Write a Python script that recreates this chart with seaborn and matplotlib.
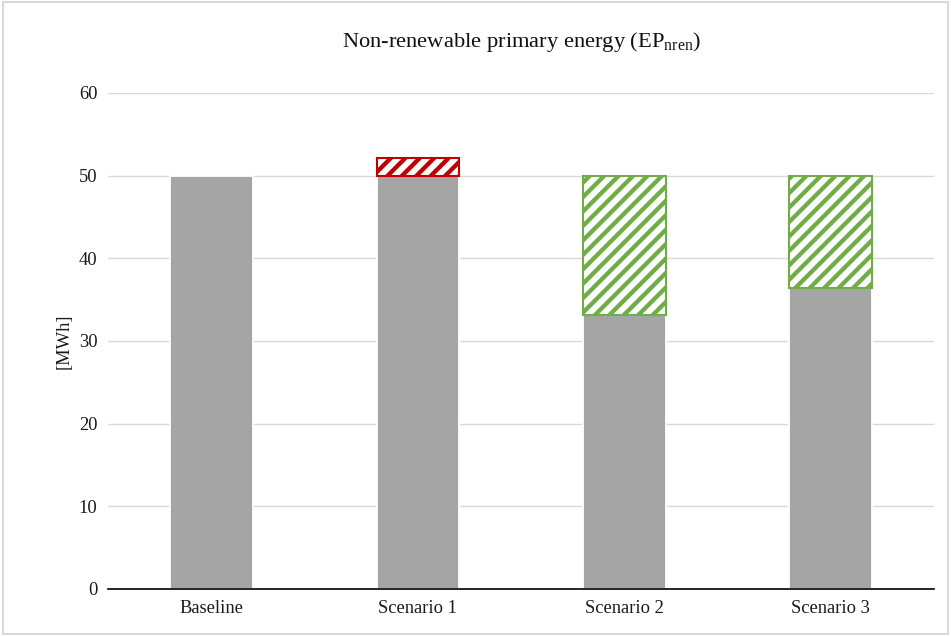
import matplotlib
matplotlib.use("Agg")
import matplotlib.pyplot as plt
import seaborn as sns
import numpy as np
import pandas as pd

DPI = 130
S = 100 / DPI  # keep point sizes as at 100 dpi, hatch density follows dpi

sns.set_theme(style="white")
plt.rcParams.update({
    "font.family": ["Liberation Serif", "DejaVu Serif"],
    "font.size": 13 * S,
    "hatch.linewidth": 2.4,
    "mathtext.fontset": "custom",
    "mathtext.rm": "Liberation Serif",
})

categories = ["Baseline", "Scenario 1", "Scenario 2", "Scenario 3"]
scenario_values = [50.0, 52.1, 33.1, 36.4]   # EP_nren per scenario
baseline_value = 50.0
hatch_colors = ["none", "#c00000", "#70ad47", "#70ad47"]

df = pd.DataFrame({
    "scenario": categories,
    "value": scenario_values,
})
# gray part = part shared with baseline, hatched part = difference
df["gray"] = np.minimum(df["value"], baseline_value)
df["diff_bottom"] = np.minimum(df["value"], baseline_value)
df["diff"] = np.abs(df["value"] - baseline_value)

fig, ax = plt.subplots(figsize=(951 / DPI, 636 / DPI), dpi=DPI)
fig.subplots_adjust(left=0.114, right=0.982, top=0.854, bottom=0.074)

sns.barplot(data=df, x="scenario", y="gray", color="#a5a5a5", saturation=1,
            width=0.4, ax=ax)

for i, row in df.iterrows():
    if row["diff"] <= 0:
        continue
    ax.bar(i, row["diff"], bottom=row["diff_bottom"], width=0.4,
           facecolor="white", edgecolor=hatch_colors[i], hatch="///",
           linewidth=1.5 * S, zorder=3)

ax.set_ylim(0, 60)
ax.set_xlim(-0.5, 3.5)
ax.set_yticks(np.arange(0, 61, 10))
ax.yaxis.grid(True, color="#d9d9d9", linewidth=1 * S)
ax.set_axisbelow(True)
for s in ["top", "right", "left"]:
    ax.spines[s].set_visible(False)
ax.spines["bottom"].set_color("black")
ax.spines["bottom"].set_linewidth(1.2 * S)
ax.tick_params(axis="both", length=0, labelsize=13.3 * S, pad=8 * S, colors="#1a1a1a")
ax.set_xlabel("")
ax.set_ylabel("[MWh]", fontsize=13.3 * S, color="#1a1a1a", labelpad=4 * S)
ax.set_title(r"Non-renewable primary energy (EP$_{\mathrm{nren}}$)",
             fontsize=16.2 * S, pad=33 * S, color="#111111")

fig.patches.append(plt.Rectangle((0.003, 0.003), 0.994, 0.994, transform=fig.transFigure,
                                 fill=False, edgecolor="#d9d9d9", linewidth=1.5 * S))

fig.savefig("out.png", dpi=DPI)
